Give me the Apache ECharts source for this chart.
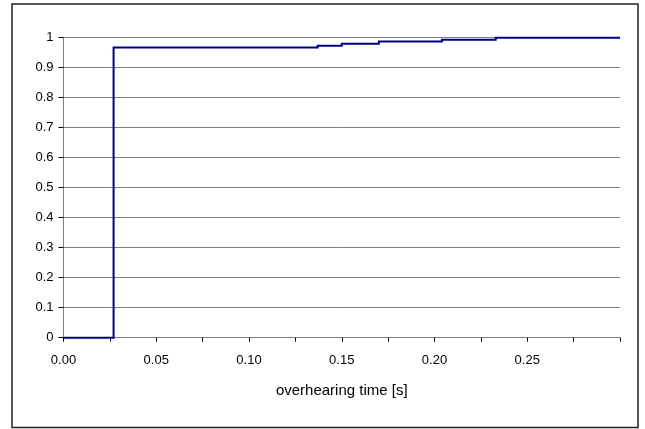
<!DOCTYPE html>
<html>
<head>
<meta charset="utf-8">
<script src="https://cdn.jsdelivr.net/npm/echarts@6/dist/echarts.min.js"></script>
<style>
  html, body { margin: 0; padding: 0; background: #fff; }
  #chart { width: 645px; height: 429px; }
</style>
</head>
<body>
<div id="chart"></div>
<script>
// Cumulative distribution of overhearing time (step curve)
const stepTimes = [0, 0.027, 0.137, 0.150, 0.170, 0.204, 0.233, 0.30];
const stepValues = [0, 0.967, 0.973, 0.980, 0.987, 0.993, 1.0, 1.0];
const xTickLabels = ['0.00', '0.05', '0.10', '0.15', '0.20', '0.25'];
const xAxisTitle = 'overhearing time [s]';

// Expand into explicit corner points: hold the previous level up to each
// change time, then jump to the new level.
const points = [[stepTimes[0], stepValues[0]]];
for (let i = 1; i < stepTimes.length; i++) {
  points.push([stepTimes[i], stepValues[i - 1]]);
  if (stepValues[i] !== stepValues[i - 1]) points.push([stepTimes[i], stepValues[i]]);
}

const chart = echarts.init(document.getElementById('chart'), null, { renderer: 'canvas' });
const font = 'Liberation Sans, Arial, sans-serif';

chart.setOption({
  animation: false,
  backgroundColor: '#fff',
  graphic: [{
    type: 'rect',
    shape: { x: 12, y: 4, width: 626, height: 423.5 },
    style: { fill: 'none', stroke: '#222', lineWidth: 1.5 },
    silent: true
  }],
  grid: { left: 63.5, right: 25, top: 37.7, bottom: 91.3, containLabel: false },
  xAxis: {
    type: 'value',
    min: 0,
    max: 0.3,
    interval: 0.025,
    name: xAxisTitle,
    nameLocation: 'middle',
    nameGap: 46,
    nameTextStyle: { color: '#000', fontFamily: font, fontSize: 15 },
    axisLine: { show: true, onZero: false, lineStyle: { color: '#808080', width: 1 } },
    axisTick: { show: true, inside: false, length: 4, lineStyle: { color: '#000', width: 1 } },
    axisLabel: {
      color: '#000',
      fontFamily: font,
      fontSize: 13,
      margin: 16,
      showMaxLabel: true,
      formatter: function (v) {
        const k = Math.round(v / 0.025);
        if (k % 2 !== 0) return '';
        return xTickLabels[k / 2] || '';
      }
    },
    splitLine: { show: false }
  },
  yAxis: {
    type: 'value',
    min: 0,
    max: 1,
    interval: 0.1,
    axisLine: { show: true, lineStyle: { color: '#808080', width: 1 } },
    axisTick: { show: true, inside: false, length: 5, lineStyle: { color: '#000', width: 1 } },
    axisLabel: {
      color: '#000',
      fontFamily: font,
      fontSize: 13,
      margin: 10,
      formatter: function (v) { return String(Math.round(v * 10) / 10); }
    },
    splitLine: { show: true, lineStyle: { color: '#808080', width: 1 } }
  },
  series: [{
    // Drawn as one polyline so the small risers near 1.0 are all kept
    type: 'custom',
    data: points,
    encode: { x: 0, y: 1 },
    z: 5,
    clip: false,
    renderItem: function (params, api) {
      if (params.dataIndex !== 0) return null;
      const pts = points.map(function (p) { return api.coord(p); });
      return {
        type: 'polyline',
        shape: { points: pts },
        style: { stroke: '#000080', lineWidth: 2, fill: null, lineJoin: 'miter' },
        silent: true
      };
    }
  }]
});
</script>
</body>
</html>
